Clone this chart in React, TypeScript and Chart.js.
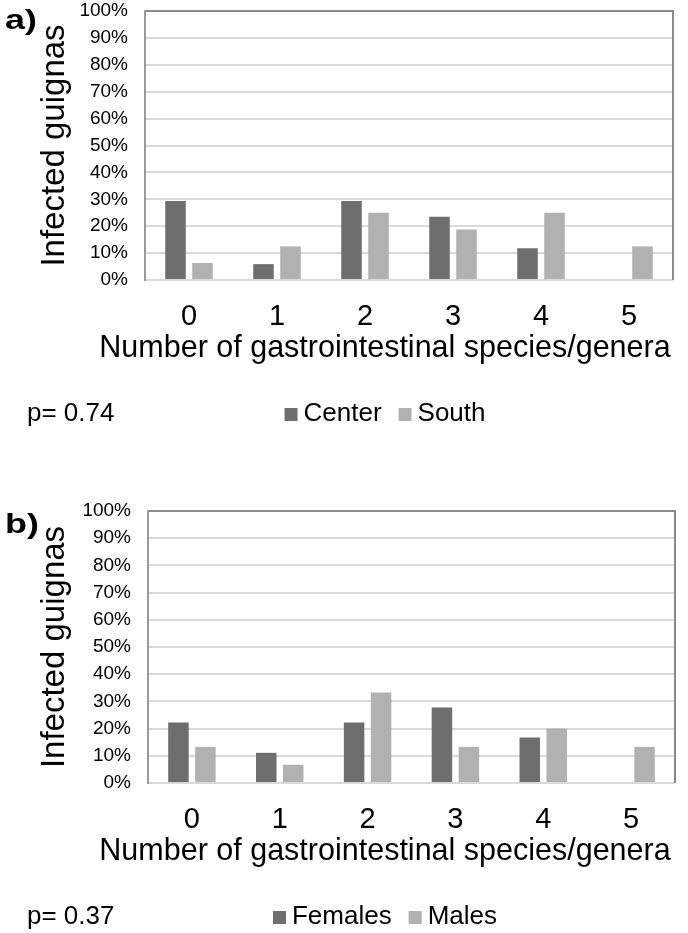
import React, { useEffect, useRef } from 'react';
import { Chart, registerables } from 'chart.js';

Chart.register(...registerables);

// ---------------- data ----------------
const categories = ['0', '1', '2', '3', '4', '5'];
const yTickStep = 10;
const yMax = 100;

const centerValues = [29.4, 5.9, 29.4, 23.5, 11.8, 0];
const southValues = [6.3, 12.5, 25.0, 18.8, 25.0, 12.5];

const femaleValues = [22.2, 11.1, 22.2, 27.8, 16.7, 0];
const maleValues = [13.3, 6.7, 33.3, 13.3, 20.0, 13.3];

const yTitle = 'Infected guignas';
const xTitle = 'Number of gastrointestinal species/genera';
const pTextA = 'p= 0.74';
const pTextB = 'p= 0.37';

// ---------------- styles ----------------
const FONT = "'Liberation Sans', Arial, Helvetica, sans-serif";
const DARK = '#6e6e6e';
const LIGHT = '#b1b1b1';

const decorPlugin = {
  id: 'decor',
  beforeDatasetsDraw(chart: any) {
    const { ctx, chartArea } = chart;
    ctx.save();
    ctx.strokeStyle = '#8a8a8a';
    ctx.lineWidth = 2;
    ctx.beginPath();
    ctx.moveTo(chartArea.right, chartArea.top - 1);
    ctx.lineTo(chartArea.right, chartArea.bottom);
    ctx.stroke();
    ctx.restore();
  },
  afterDraw(chart: any, _args: any, opts: any) {
    const { ctx, chartArea } = chart;
    const bottom = chartArea.bottom;
    ctx.save();
    ctx.fillStyle = '#000';
    ctx.textBaseline = 'alphabetic';

    // panel label (horizontally stretched bold text)
    ctx.save();
    ctx.font = `bold 27px ${FONT}`;
    ctx.textAlign = 'left';
    ctx.translate(opts.labelX, opts.labelY);
    ctx.scale(1.33, 1);
    ctx.fillText(opts.label, 0, 0);
    ctx.restore();

    // x-axis title
    ctx.font = `30.5px ${FONT}`;
    ctx.textAlign = 'center';
    ctx.fillText(opts.xTitle, opts.centerX, bottom + opts.xTitleDy);

    // p value
    ctx.font = `26px ${FONT}`;
    ctx.textAlign = 'left';
    ctx.fillText(opts.pText, 27, bottom + opts.legendDy);

    // legend
    const ds = chart.data.datasets;
    const box = 13;
    const gap = 6;
    const spacing = 17;
    const widths = ds.map((d: any) => ctx.measureText(d.label).width);
    let total = 0;
    widths.forEach((w: number, i: number) => {
      total += box + gap + w + (i < widths.length - 1 ? spacing : 0);
    });
    let x = opts.centerX - total / 2;
    const base = bottom + opts.legendDy;
    ds.forEach((d: any, i: number) => {
      ctx.fillStyle = d.backgroundColor;
      ctx.fillRect(x, base - box, box, box);
      x += box + gap;
      ctx.fillStyle = '#000';
      ctx.fillText(d.label, x, base);
      x += widths[i] + spacing;
    });
    ctx.restore();
  },
};

type Series = { label: string; data: number[]; color: string };

type PanelProps = {
  top: number;
  width: number;
  height: number;
  plotTop: number;
  plotBottom: number;
  plotLeft: number;
  plotRight: number;
  label: string;
  labelY: number;
  pText: string;
  series: Series[];
};

function Panel(props: PanelProps) {
  const ref = useRef<HTMLCanvasElement | null>(null);
  useEffect(() => {
    if (!ref.current) return;
    const chart = new Chart(ref.current, {
      type: 'bar',
      data: {
        labels: categories,
        datasets: props.series.map((s) => ({
          label: s.label,
          data: s.data,
          backgroundColor: s.color,
          borderWidth: 0,
          categoryPercentage: 0.614,
          barPercentage: 0.76,
        })),
      },
      options: {
        responsive: false,
        animation: false,
        devicePixelRatio: 1,
        layout: {
          padding: { left: 0, top: props.plotTop, right: props.width - props.plotRight, bottom: 0 },
        },
        plugins: {
          legend: { display: false },
          tooltip: { enabled: false },
          decor: {
            label: props.label,
            labelX: 5,
            labelY: props.labelY,
            xTitle: xTitle,
            centerX: 385,
            xTitleDy: 77,
            pText: props.pText,
            legendDy: 141,
          },
        } as any,
        scales: {
          x: {
            grid: { display: false, drawTicks: false },
            border: { display: false },
            ticks: { font: { family: FONT, size: 29 }, color: '#000', padding: 20 },
            afterFit: (s: any) => {
              s.height = props.height - props.plotBottom;
            },
          },
          y: {
            min: 0,
            max: yMax,
            ticks: {
              stepSize: yTickStep,
              autoSkip: false,
              callback: (v: any) => `${v}%`,
              font: { family: FONT, size: 19 },
              color: '#000',
              padding: 17,
            },
            grid: {
              color: (c: any) => (c.tick && c.tick.value === yMax ? '#8a8a8a' : '#d9d9d9'),
              lineWidth: 2,
              drawTicks: false,
            },
            border: { display: true, color: '#9a9a9a', width: 2 },
            title: {
              display: true,
              text: yTitle,
              font: { family: FONT, size: 33 },
              color: '#000',
              padding: { top: 35, bottom: 0 },
            },
            afterFit: (s: any) => {
              s.width = props.plotLeft;
              s.paddingTop = 0;
              s.paddingBottom = 0;
            },
          },
        } as any,
      },
      plugins: [decorPlugin as any],
    });
    return () => chart.destroy();
  }, []);
  return (
    <canvas
      ref={ref}
      width={props.width}
      height={props.height}
      style={{ position: 'absolute', left: 0, top: props.top, width: props.width, height: props.height }}
    />
  );
}

export default function App() {
  return (
    <div style={{ position: 'absolute', left: 0, top: 0, width: 688, height: 933, background: '#fff' }}>
      <Panel
        top={0}
        width={688}
        height={466}
        plotTop={11}
        plotBottom={280}
        plotLeft={145}
        plotRight={673}
        label="a)"
        labelY={29}
        pText={pTextA}
        series={[
          { label: 'Center', data: centerValues, color: DARK },
          { label: 'South', data: southValues, color: LIGHT },
        ]}
      />
      <Panel
        top={466}
        width={688}
        height={467}
        plotTop={45}
        plotBottom={317}
        plotLeft={148}
        plotRight={675}
        label="b)"
        labelY={67}
        pText={pTextB}
        series={[
          { label: 'Females', data: femaleValues, color: DARK },
          { label: 'Males', data: maleValues, color: LIGHT },
        ]}
      />
    </div>
  );
}
